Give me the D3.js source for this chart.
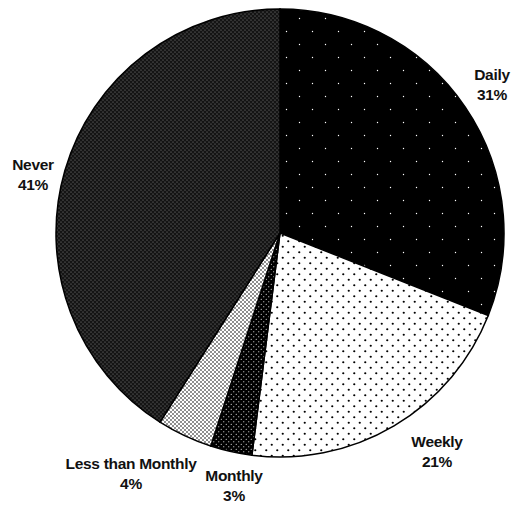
<!DOCTYPE html>
<html>
<head>
<meta charset="utf-8">
<script src="https://cdn.jsdelivr.net/npm/d3@7"></script>
<style>
  body { margin: 0; background: #fff; }
  text { font-family: "Liberation Sans", Arial, sans-serif; font-weight: bold; font-size: 15.5px; fill: #111; letter-spacing: -0.3px; }
</style>
</head>
<body>
<div id="chart"></div>
<script>
// Data
const categories = ['Daily', 'Weekly', 'Monthly', 'Less than Monthly', 'Never'];
const values = [31, 21, 3, 4, 41];
const labels = ['31%', '21%', '3%', '4%', '41%'];

const width = 512, height = 508;
const cx = 280, cy = 233, radius = 224;

const svg = d3.select('#chart').append('svg')
  .attr('width', width)
  .attr('height', height);

const defs = svg.append('defs');

// Patterns for each slice
function dotPattern(id, bg, dot, size, r) {
  const p = defs.append('pattern')
    .attr('id', id)
    .attr('patternUnits', 'userSpaceOnUse')
    .attr('width', size)
    .attr('height', size);
  p.append('rect').attr('width', size).attr('height', size).attr('fill', bg);
  p.append('circle').attr('cx', size / 4).attr('cy', size / 4).attr('r', r).attr('fill', dot);
  p.append('circle').attr('cx', size * 3 / 4).attr('cy', size * 3 / 4).attr('r', r).attr('fill', dot);
}
dotPattern('p-daily', '#000', '#fff', 26, 0.7);
dotPattern('p-weekly', '#fff', '#000', 11, 1.1);
dotPattern('p-monthly', '#000', '#fff', 5, 0.6);
dotPattern('p-less', '#fff', '#000', 4, 0.8);
dotPattern('p-never', '#141414', '#8c8c8c', 4, 0.6);

const fills = ['url(#p-daily)', 'url(#p-weekly)', 'url(#p-monthly)', 'url(#p-less)', 'url(#p-never)'];

const pie = d3.pie().sort(null).value(d => d);
const arc = d3.arc().innerRadius(0).outerRadius(radius);

const g = svg.append('g').attr('transform', `translate(${cx},${cy})`);

g.selectAll('path.slice')
  .data(pie(values))
  .join('path')
  .attr('class', 'slice')
  .attr('d', arc)
  .attr('fill', (d, i) => fills[i])
  .attr('stroke', '#000')
  .attr('stroke-width', 1.5);

// Label positions (first line baseline), relative to the pie centre
const labelPos = [
  [212, -153],
  [157, 214],
  [-46, 248],
  [-149, 236],
  [-247, -63]
];

const lbl = svg.append('g');
categories.forEach(function (c, i) {
  const x = cx + labelPos[i][0];
  const t = lbl.append('text')
    .attr('x', x)
    .attr('y', cy + labelPos[i][1])
    .attr('text-anchor', 'middle');
  t.append('tspan').attr('x', x).text(c);
  t.append('tspan').attr('x', x).attr('dy', 20).text(labels[i]);
});
</script>
</body>
</html>
